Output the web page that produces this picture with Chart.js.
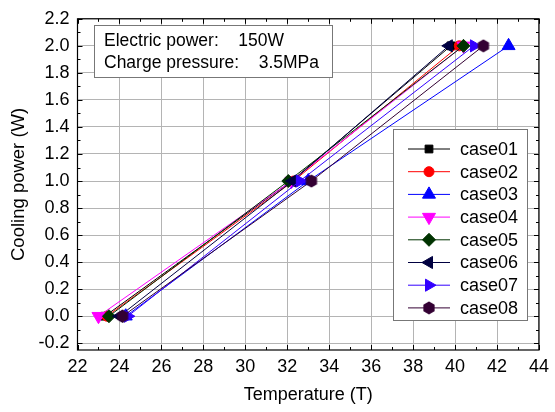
<!DOCTYPE html>
<html>
<head>
<meta charset="utf-8">
<script src="https://cdn.jsdelivr.net/npm/chart.js@4.4.1/dist/chart.umd.min.js"></script>
<style>
  html, body { margin: 0; padding: 0; background: #fff; }
  #wrap { width: 555px; height: 412px; }
</style>
</head>
<body>
<div id="wrap"><canvas id="chart" width="555" height="412"></canvas></div>
<script>
// ── Data ──
const caseNames = ['case01', 'case02', 'case03', 'case04', 'case05', 'case06', 'case07', 'case08'];
const coolingPower = [0, 1, 2];           // W, same three levels for every case

const tempCase01 = [23.3, 32.2, 39.8];
const tempCase02 = [23.4, 32.3, 40.2];
const tempCase03 = [24.3, 33.0, 42.55];
const tempCase04 = [23.0, 32.2, 40.4];
const tempCase05 = [23.5, 32.05, 40.4];
const tempCase06 = [24.0, 32.25, 39.7];
const tempCase07 = [24.4, 32.6, 40.9];
const tempCase08 = [24.15, 33.15, 41.35];

const xTicks = [22, 24, 26, 28, 30, 32, 34, 36, 38, 40, 42, 44];
const yTicks = [-0.2, 0, 0.2, 0.4, 0.6, 0.8, 1.0, 1.2, 1.4, 1.6, 1.8, 2.0, 2.2];

const noteLines = ['Electric power:    150W', 'Charge pressure:    3.5MPa'];

// ── Styles ──
const FONT = '"Liberation Sans", Arial, sans-serif';
const GRID = '#b4b4b4';

function hexagonImage(color) {
    const c = document.createElement('canvas');
    c.width = 14; c.height = 14;
    const g = c.getContext('2d');
    g.beginPath();
    for (let k = 0; k < 6; k++) {
        const a = Math.PI / 2 + k * Math.PI / 3;
        const px = 7 + Math.cos(a) * 6.5, py = 7 - Math.sin(a) * 6.5;
        k ? g.lineTo(px, py) : g.moveTo(px, py);
    }
    g.closePath();
    g.fillStyle = color;
    g.fill();
    return c;
}

const caseStyles = [
    { color: '#000000', style: 'rect',     radius: 5.5, rot: 0 },
    { color: '#ff0000', style: 'circle',   radius: 5,   rot: 0 },
    { color: '#0000ff', style: 'triangle', radius: 7.5, rot: 0 },
    { color: '#ff00ff', style: 'triangle', radius: 7.5, rot: 180 },
    { color: '#003300', style: 'rectRot',  radius: 6.5, rot: 0 },
    { color: '#000040', style: 'triangle', radius: 7,   rot: 270 },
    { color: '#3300ff', style: 'triangle', radius: 7,   rot: 90 },
    { color: '#330033', style: hexagonImage('#330033'), radius: 6, rot: 0 }
];

const caseTemps = [tempCase01, tempCase02, tempCase03, tempCase04, tempCase05, tempCase06, tempCase07, tempCase08];

const datasets = caseNames.map((name, i) => {
    const s = caseStyles[i];
    return {
        label: name,
        data: caseTemps[i].map((t, j) => ({ x: t, y: coolingPower[j] })),
        borderColor: s.color,
        backgroundColor: s.color,
        borderWidth: 1,
        pointStyle: s.style,
        pointRadius: s.radius,
        pointRotation: s.rot,
        pointBorderWidth: 1,
        pointBorderColor: s.color,
        pointBackgroundColor: s.color,
        tension: 0,
        order: caseNames.length - i   // later cases drawn on top
    };
});

// ── Frame with inward ticks on all four sides ──
const framePlugin = {
    id: 'frame',
    afterDatasetsDraw(chart) {
        const { ctx, chartArea: a, scales: { x, y } } = chart;
        ctx.save();
        ctx.strokeStyle = '#000';
        ctx.lineWidth = 1;
        ctx.beginPath();
        for (let v = 22; v <= 44; v += 1) {
            const px = Math.round(x.getPixelForValue(v)) + 0.5;
            const len = v % 2 === 0 ? 5 : 3;
            ctx.moveTo(px, a.bottom); ctx.lineTo(px, a.bottom - len);
            ctx.moveTo(px, a.top);    ctx.lineTo(px, a.top + len);
        }
        for (let k = -2; k <= 22; k++) {
            const py = Math.round(y.getPixelForValue(k / 10)) + 0.5;
            const len = k % 2 === 0 ? 5 : 3;
            ctx.moveTo(a.left, py);  ctx.lineTo(a.left + len, py);
            ctx.moveTo(a.right, py); ctx.lineTo(a.right - len, py);
        }
        ctx.stroke();
        ctx.lineWidth = 1.2;
        ctx.strokeRect(a.left, a.top, a.right - a.left, a.bottom - a.top);
        ctx.restore();
    }
};

// ── Note box and legend box ──
const boxesPlugin = {
    id: 'boxes',
    afterDraw(chart) {
        const ctx = chart.ctx;
        ctx.save();
        ctx.textBaseline = 'middle';
        ctx.textAlign = 'left';

        // note
        ctx.font = '17.5px ' + FONT;
        ctx.fillStyle = '#fff';
        ctx.fillRect(94.5, 25.5, 238, 52);
        ctx.strokeStyle = '#777';
        ctx.lineWidth = 1;
        ctx.strokeRect(94.5, 25.5, 238, 52);
        ctx.fillStyle = '#000';
        ctx.fillText(noteLines[0], 104, 41);
        ctx.fillText(noteLines[1], 104, 63);

        // legend
        ctx.font = '18px ' + FONT;
        ctx.fillStyle = '#fff';
        ctx.fillRect(393.5, 129.5, 134, 191);
        ctx.strokeRect(393.5, 129.5, 134, 191);
        const drawPoint = Chart.helpers && Chart.helpers.drawPoint;
        chart.data.datasets.forEach((ds, i) => {
            const ry = 149 + i * 22.7;
            ctx.strokeStyle = ds.borderColor;
            ctx.lineWidth = 1;
            ctx.beginPath();
            ctx.moveTo(408, ry); ctx.lineTo(450, ry);
            ctx.stroke();
            ctx.fillStyle = ds.pointBackgroundColor;
            if (drawPoint) {
                drawPoint(ctx, { pointStyle: ds.pointStyle, rotation: ds.pointRotation, radius: ds.pointRadius, borderWidth: 1 }, 429, ry);
            }
            ctx.fillStyle = '#000';
            ctx.fillText(ds.label, 460, ry + 1);
        });
        ctx.restore();
    }
};

new Chart(document.getElementById('chart'), {
    type: 'line',
    data: { datasets },
    options: {
        responsive: false,
        animation: false,
        layout: { padding: { top: 12, right: 9, left: 0, bottom: 0 } },
        plugins: { legend: { display: false }, tooltip: { enabled: false } },
        scales: {
            x: {
                type: 'linear',
                min: 22, max: 44,
                afterBuildTicks: s => { s.ticks = xTicks.map(v => ({ value: v })); },
                afterFit: s => { s.height = 62; },
                grid: { color: GRID, lineWidth: 1, drawTicks: false },
                border: { display: false },
                ticks: { color: '#000', padding: 6, maxRotation: 0, autoSkip: false, font: { family: FONT, size: 18 } },
                title: { display: true, text: 'Temperature (T)', color: '#000', font: { family: FONT, size: 18 }, padding: { top: 0, bottom: 6 } }
            },
            y: {
                type: 'linear',
                min: -0.25, max: 2.2,
                afterBuildTicks: s => { s.ticks = yTicks.map(v => ({ value: v })); },
                afterFit: s => { s.width = 77.5; },
                grid: { color: GRID, lineWidth: 1, drawTicks: false },
                border: { display: false },
                ticks: { color: '#000', padding: 8, autoSkip: false, font: { family: FONT, size: 18 }, callback: v => v.toFixed(1) },
                title: { display: true, text: 'Cooling power (W)', color: '#000', font: { family: FONT, size: 18.5 }, padding: { top: 8, bottom: 0 } }
            }
        }
    },
    plugins: [framePlugin, boxesPlugin]
});
</script>
</body>
</html>
